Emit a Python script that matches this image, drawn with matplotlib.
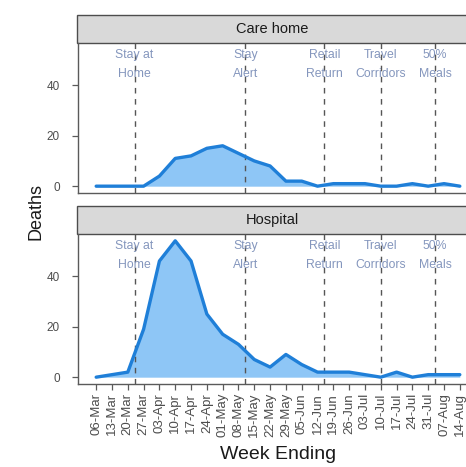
import matplotlib
matplotlib.use('Agg')
import matplotlib.pyplot as plt
import matplotlib.dates as mdates
from matplotlib.patches import Rectangle
from datetime import datetime, timedelta

plt.rcParams['font.family'] = ['Liberation Sans', 'DejaVu Sans']

week_ending = ["2020-03-06", "2020-03-13", "2020-03-20", "2020-03-27", "2020-04-03",
               "2020-04-10", "2020-04-17", "2020-04-24", "2020-05-01", "2020-05-08",
               "2020-05-15", "2020-05-22", "2020-05-29", "2020-06-05", "2020-06-12",
               "2020-06-19", "2020-06-26", "2020-07-03", "2020-07-10", "2020-07-17",
               "2020-07-24", "2020-07-31", "2020-08-07", "2020-08-14"]
care_home = [0, 0, 0, 0, 4, 11, 12, 15, 16, 13, 10, 8, 2, 2, 0, 1, 1, 1, 0, 0, 1, 0, 1, 0]
hospital = [0, 1, 2, 19, 46, 54, 46, 25, 17, 13, 7, 4, 9, 5, 2, 2, 2, 1, 0, 2, 0, 1, 1, 1]
panels = ["Care home", "Hospital"]
event_dates = ["2020-03-23", "2020-05-11", "2020-06-15", "2020-07-10", "2020-08-03"]
event_labels = ["Stay at\nHome", "Stay\nAlert", "Retail\nReturn", "Travel\nCorridors", "50%\nMeals"]
y_ticks = [0, 20, 40]

dates = [datetime.strptime(d, "%Y-%m-%d") for d in week_ending]
evd = [datetime.strptime(d, "%Y-%m-%d") for d in event_dates]

W, H = 466, 467
fig = plt.figure(figsize=(W / 100, H / 100), dpi=100)


def px_axes(l, t, r, b):
    return fig.add_axes([l / W, 1 - b / H, (r - l) / W, (b - t) / H])


line_c = '#1f7fd8'
fill_c = '#8ec6f6'
axis_c = '#5a5a5a'
label_c = '#8496bd'

layout = [(15, 43, 193), (206, 234, 384)]
series = [care_home, hospital]
span = (dates[-1] - dates[0]).days * 0.05
for i, (name, vals, (st, pt, pb)) in enumerate(zip(panels, series, layout)):
    # strip
    sax = px_axes(77, st, 480, pt)
    sax.set_xlim(0, 1); sax.set_ylim(0, 1)
    sax.axis('off')
    sax.add_patch(Rectangle((0, 0), 1, 1, facecolor='#d9d9d9', edgecolor='#4d4d4d',
                            lw=1.0, transform=sax.transAxes, clip_on=False))
    sax.text(0.485, 0.5, name, ha='center', va='center', fontsize=10.5,
             color='#1a1a1a', transform=sax.transAxes)

    ax = px_axes(78, pt, 478, pb)
    ax.fill_between(dates, 0, vals, color=fill_c, lw=0, zorder=1)
    ax.plot(dates, vals, color=line_c, lw=2.4, zorder=3, solid_capstyle='round')
    for d, lab in zip(evd, event_labels):
        ax.axvline(d, color='#555555', lw=1.0, ls=(0, (4, 4)), zorder=2)
        ax.text(d, 48.3, lab, ha='center', va='center', fontsize=8.8, color=label_c,
                linespacing=1.8, zorder=4)
    ax.set_xlim(dates[0] - timedelta(days=span), dates[-1] + timedelta(days=span))
    ax.set_ylim(-2.7, 56.7)
    ax.set_yticks(y_ticks)
    ax.tick_params(axis='y', colors=axis_c, labelcolor='#4d4d4d', labelsize=8.5,
                   length=4, width=0.9, pad=9)
    ax.set_xticks(dates)
    if i == 0:
        ax.tick_params(axis='x', bottom=False, labelbottom=False)
    else:
        ax.xaxis.set_major_formatter(mdates.DateFormatter('%d-%b'))
        ax.tick_params(axis='x', colors=axis_c, labelcolor='#4d4d4d', labelsize=9.5,
                       length=4, width=0.9, pad=2.5, labelrotation=90)
        ax.set_xlabel("Week Ending", fontsize=14, color='#1a1a1a', labelpad=6)
    for s in ['top', 'right']:
        ax.spines[s].set_visible(False)
    for s in ['left', 'bottom']:
        ax.spines[s].set_color(axis_c)
        ax.spines[s].set_linewidth(1.0)
    ax.patch.set_alpha(0)

fig.text(36 / W, 1 - 212 / H, "Deaths", rotation=90, ha='center', va='center',
         fontsize=13, color='#1a1a1a')

fig.savefig('out.png', dpi=100)
